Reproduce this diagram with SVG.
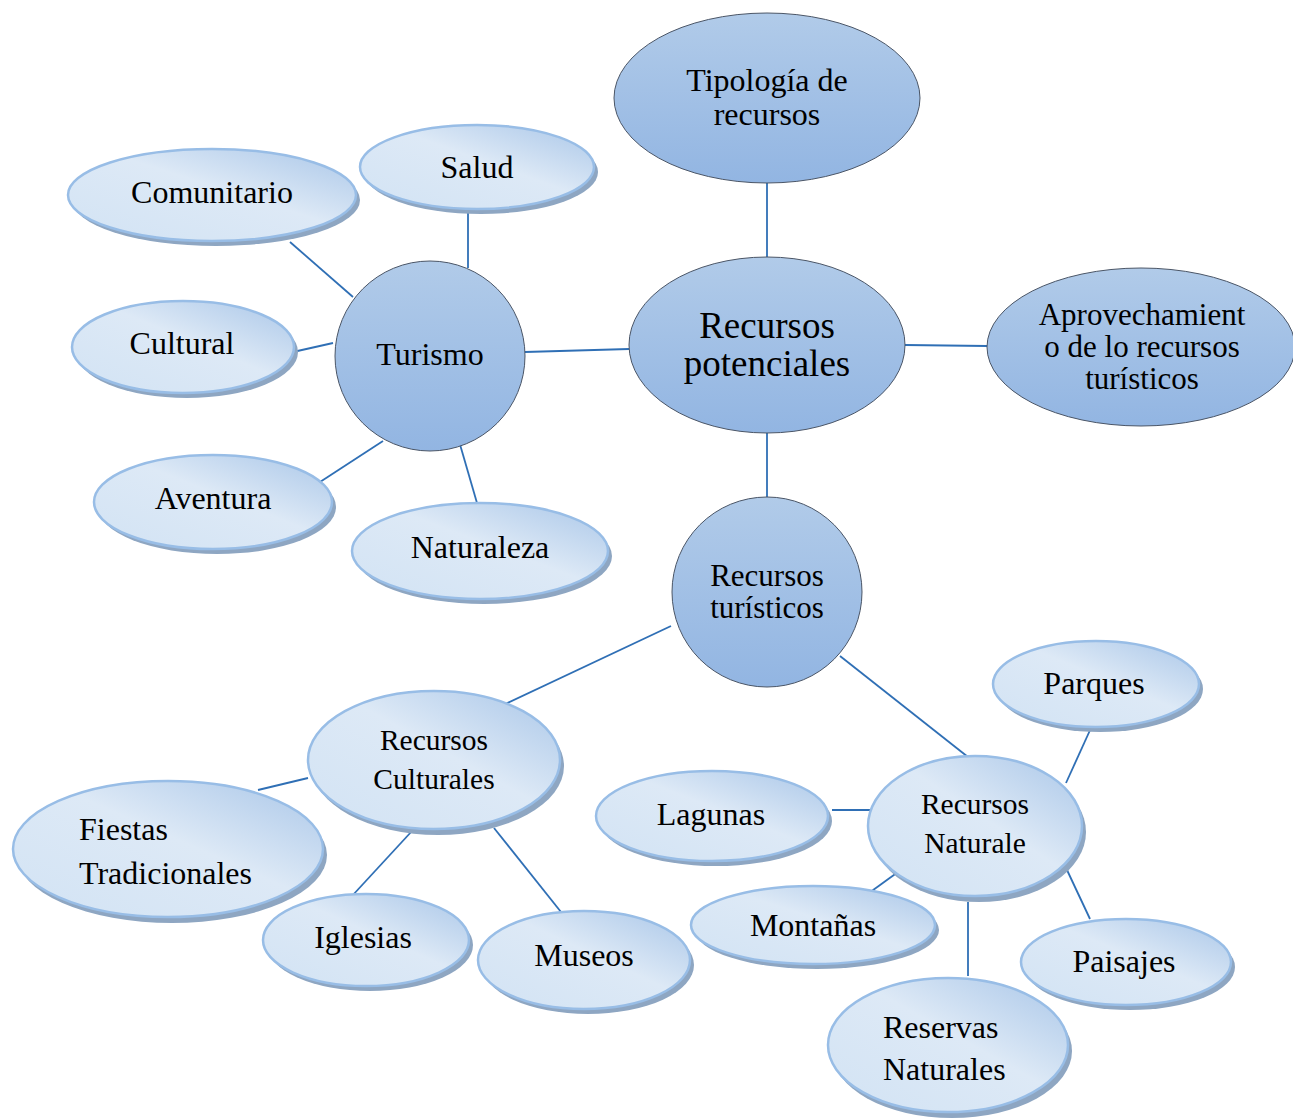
<svg xmlns="http://www.w3.org/2000/svg" width="1293" height="1118" viewBox="0 0 1293 1118">
<defs>
  <linearGradient id="gDark" x1="0" y1="0" x2="0" y2="1">
    <stop offset="0" stop-color="#b1cbe9"/>
    <stop offset="1" stop-color="#92b5e2"/>
  </linearGradient>
  <linearGradient id="gLight" x1="1" y1="0" x2="0" y2="1">
    <stop offset="0" stop-color="#a9c6e8"/>
    <stop offset="0.45" stop-color="#dde9f6"/>
    <stop offset="1" stop-color="#d2e3f4"/>
  </linearGradient>
</defs>
<style>
  .dark { fill: url(#gDark); stroke: #4a5566; stroke-width: 1; }
  .light { fill: url(#gLight); stroke: #98bde6; stroke-width: 2.5; }
  .sh { fill: #8ea6c2; }
  .t { font-family: "Liberation Serif", "Times New Roman", serif; font-size: 32px; fill: #000; text-anchor: middle; }
  .s { font-size: 31px; }
  .l { text-anchor: start; }
  .big { font-size: 37px; }
  .mid { font-size: 29.5px; }
  .conn line { stroke: #2f6fb5; stroke-width: 1.8; }
</style>
<rect width="1293" height="1118" fill="#ffffff"/>

<g class="conn" id="connectors">
  <line x1="767" y1="183" x2="767" y2="257"/>
  <line x1="905" y1="345" x2="987" y2="346"/>
  <line x1="525" y1="352" x2="629" y2="349"/>
  <line x1="767" y1="433" x2="767" y2="497"/>
  <line x1="468" y1="210" x2="468" y2="268"/>
  <line x1="290" y1="242" x2="353" y2="297"/>
  <line x1="293" y1="352" x2="333" y2="343"/>
  <line x1="320" y1="482" x2="383" y2="441"/>
  <line x1="459" y1="441" x2="477" y2="503"/>
  <line x1="671" y1="626" x2="501" y2="706"/>
  <line x1="840" y1="656" x2="968" y2="757"/>
  <line x1="258" y1="790" x2="308" y2="778"/>
  <line x1="352" y1="896" x2="412" y2="831"/>
  <line x1="494" y1="828" x2="561" y2="912"/>
  <line x1="1066" y1="783" x2="1091" y2="728"/>
  <line x1="832" y1="810" x2="876" y2="810"/>
  <line x1="869" y1="893" x2="898" y2="872"/>
  <line x1="1067" y1="870" x2="1090" y2="919"/>
  <line x1="968" y1="902" x2="968" y2="976"/>
</g>

<g id="tipologia">
  <ellipse class="dark" cx="767" cy="98" rx="153" ry="85"/>
  <text class="t" x="767" y="91">Tipología de</text>
  <text class="t" x="767" y="125">recursos</text>
</g>
<g id="recursos-potenciales">
  <ellipse class="dark" cx="767" cy="345" rx="138" ry="88"/>
  <text class="t big" x="767" y="338">Recursos</text>
  <text class="t big" x="767" y="376">potenciales</text>
</g>
<g id="aprovechamiento">
  <ellipse class="dark" cx="1141" cy="347" rx="154" ry="79"/>
  <text class="t s" x="1142" y="325">Aprovechamient</text>
  <text class="t s" x="1142" y="357">o de lo recursos</text>
  <text class="t s" x="1142" y="389">turísticos</text>
</g>
<g id="turismo">
  <circle class="dark" cx="430" cy="356" r="95"/>
  <text class="t" x="430" y="365">Turismo</text>
</g>
<g id="recursos-turisticos">
  <circle class="dark" cx="767" cy="592" r="95"/>
  <text class="t s" x="767" y="586">Recursos</text>
  <text class="t s" x="767" y="618">turísticos</text>
</g>

<g id="salud">
  <ellipse class="sh" cx="481" cy="172" rx="117" ry="42"/>
  <ellipse class="light" cx="477" cy="167" rx="117" ry="42"/>
  <text class="t" x="477" y="178">Salud</text>
</g>
<g id="comunitario">
  <ellipse class="sh" cx="216" cy="200" rx="144" ry="46"/>
  <ellipse class="light" cx="212" cy="195" rx="144" ry="46"/>
  <text class="t" x="212" y="203">Comunitario</text>
</g>
<g id="cultural">
  <ellipse class="sh" cx="187" cy="352" rx="111" ry="46"/>
  <ellipse class="light" cx="183" cy="347" rx="111" ry="46"/>
  <text class="t" x="182" y="354">Cultural</text>
</g>
<g id="aventura">
  <ellipse class="sh" cx="217" cy="507" rx="119" ry="47"/>
  <ellipse class="light" cx="213" cy="502" rx="119" ry="47"/>
  <text class="t" x="213" y="509">Aventura</text>
</g>
<g id="naturaleza">
  <ellipse class="sh" cx="484" cy="556" rx="128" ry="48"/>
  <ellipse class="light" cx="480" cy="551" rx="128" ry="48"/>
  <text class="t" x="480" y="558">Naturaleza</text>
</g>

<g id="recursos-culturales">
  <ellipse class="sh" cx="438" cy="766" rx="126" ry="69"/>
  <ellipse class="light" cx="434" cy="760" rx="126" ry="69"/>
  <text class="t mid" x="434" y="750">Recursos</text>
  <text class="t mid" x="434" y="789">Culturales</text>
</g>
<g id="fiestas">
  <ellipse class="sh" cx="172" cy="855" rx="155" ry="68"/>
  <ellipse class="light" cx="168" cy="849" rx="155" ry="68"/>
  <text class="t l" x="79" y="840">Fiestas</text>
  <text class="t l" x="79" y="884">Tradicionales</text>
</g>
<g id="iglesias">
  <ellipse class="sh" cx="370" cy="945" rx="103" ry="46"/>
  <ellipse class="light" cx="366" cy="940" rx="103" ry="46"/>
  <text class="t" x="363" y="948">Iglesias</text>
</g>
<g id="museos">
  <ellipse class="sh" cx="588" cy="965" rx="106" ry="49"/>
  <ellipse class="light" cx="584" cy="960" rx="106" ry="49"/>
  <text class="t" x="584" y="966">Museos</text>
</g>

<g id="parques">
  <ellipse class="sh" cx="1100" cy="689" rx="103" ry="43"/>
  <ellipse class="light" cx="1096" cy="684" rx="103" ry="43"/>
  <text class="t" x="1094" y="694">Parques</text>
</g>
<g id="lagunas">
  <ellipse class="sh" cx="716" cy="821" rx="116" ry="45"/>
  <ellipse class="light" cx="712" cy="816" rx="116" ry="45"/>
  <text class="t" x="711" y="825">Lagunas</text>
</g>
<g id="recursos-naturale">
  <ellipse class="sh" cx="979" cy="832" rx="107" ry="70"/>
  <ellipse class="light" cx="975" cy="826" rx="107" ry="70"/>
  <text class="t mid" x="975" y="814">Recursos</text>
  <text class="t mid" x="975" y="853">Naturale</text>
</g>
<g id="montanas">
  <ellipse class="sh" cx="817" cy="930" rx="122" ry="39"/>
  <ellipse class="light" cx="813" cy="925" rx="122" ry="39"/>
  <text class="t" x="813" y="936">Montañas</text>
</g>
<g id="paisajes">
  <ellipse class="sh" cx="1130" cy="967" rx="105" ry="43"/>
  <ellipse class="light" cx="1126" cy="962" rx="105" ry="43"/>
  <text class="t" x="1124" y="972">Paisajes</text>
</g>
<g id="reservas">
  <ellipse class="sh" cx="952" cy="1051" rx="120" ry="67"/>
  <ellipse class="light" cx="948" cy="1045" rx="120" ry="67"/>
  <text class="t l" x="883" y="1038">Reservas</text>
  <text class="t l" x="883" y="1080">Naturales</text>
</g>
</svg>
